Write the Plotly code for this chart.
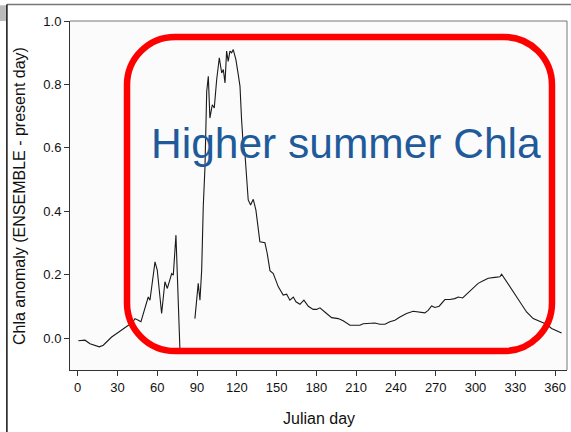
import plotly.graph_objects as go

# Julian day and Chla anomaly (ENSEMBLE - present day); None marks the data gap
julian_day = [
    0.5, 5.5, 9.3, 13.0, 16.3, 19.3, 21.9, 25.6, 29.4, 34.4, 38.2, 40.7, 43.2,
    45.7, 47.7, 49.5, 53.2, 54.5, 58.3, 60.0, 63.3, 65.8, 67.6, 70.9, 72.1,
    74.1, 77.1, 82.0,
    88.4, 90.9, 92.2, 93.5, 94.7, 96.0, 97.3, 98.5, 99.7, 101.5, 103.0, 104.8,
    106.8, 108.6, 109.8, 111.1, 112.3, 113.5, 114.8, 116.1, 117.3, 119.3,
    121.1, 122.4, 123.6, 124.9, 126.1, 127.4, 128.6, 130.4, 132.4, 134.4,
    137.4, 141.2, 142.9, 145.0, 147.5, 151.3, 155.0, 157.6, 160.0, 162.6,
    164.6, 167.6, 170.6, 173.9, 177.6, 180.2, 182.7, 187.7, 191.5, 196.5,
    200.2, 205.3, 212.8, 215.3, 220.4, 224.1, 227.9, 231.7, 235.4, 239.2,
    243.0, 248.0, 253.0, 258.0, 261.8, 264.3, 266.9, 269.4, 272.6, 276.9,
    280.7, 284.4, 287.0, 290.3, 293.3, 297.0, 302.0, 305.8, 309.6, 314.6,
    318.4, 319.7, 323.4, 328.4, 333.5, 338.5, 343.5, 348.5, 353.6, 357.4,
    361.1, 364.9,
]
chla_anomaly = [
    -0.008, -0.006, -0.017, -0.022, -0.027, -0.022, -0.012, 0.004, 0.015,
    0.031, 0.041, 0.046, 0.062, 0.057, 0.052, 0.078, 0.130, 0.120, 0.241,
    0.215, 0.078, 0.178, 0.157, 0.204, 0.199, 0.325, -0.035, None,
    0.062, 0.173, 0.120, 0.215, 0.415, 0.541, 0.778, 0.826, 0.694, 0.736,
    0.726, 0.815, 0.884, 0.836, 0.847, 0.805, 0.905, 0.873, 0.905, 0.900,
    0.910, 0.878, 0.831, 0.794, 0.689, 0.604, 0.584, 0.520, 0.436, 0.420,
    0.438, 0.404, 0.304, 0.301, 0.268, 0.213, 0.204, 0.162, 0.136, 0.139,
    0.120, 0.130, 0.115, 0.107, 0.120, 0.101, 0.091, 0.091, 0.096, 0.078,
    0.065, 0.062, 0.055, 0.041, 0.041, 0.046, 0.046, 0.048, 0.044, 0.044,
    0.052, 0.057, 0.067, 0.078, 0.085, 0.083, 0.080, 0.088, 0.102, 0.097,
    0.101, 0.122, 0.122, 0.125, 0.130, 0.127, 0.139, 0.154, 0.173, 0.181,
    0.189, 0.192, 0.194, 0.202, 0.178, 0.146, 0.115, 0.083, 0.062, 0.052,
    0.044, 0.031, 0.025, 0.017,
]

x_ticks = list(range(0, 361, 30))
y_ticks = [0.0, 0.2, 0.4, 0.6, 0.8, 1.0]
y_tick_labels = ["0.0", "0.2", "0.4", "0.6", "0.8", "1.0"]

FONT = "Liberation Sans, Arial, sans-serif"

fig = go.Figure()
fig.add_trace(go.Scatter(
    x=julian_day, y=chla_anomaly, mode="lines",
    line=dict(color="#1a1a1a", width=1.1), connectgaps=False,
    hoverinfo="x+y", showlegend=False,
))

axis_common = dict(
    showgrid=False, zeroline=False, showline=True, linecolor="#333",
    linewidth=1, ticks="outside", ticklen=5, tickcolor="#333",
    tickfont=dict(family=FONT, size=13, color="#111"),
)
fig.update_xaxes(range=[-5.8, 369], tickvals=x_ticks, mirror=False, **axis_common)
fig.update_yaxes(range=[-0.1, 1.0], tickvals=y_ticks, ticktext=y_tick_labels,
                 mirror=False, **axis_common)

# Plot-area right/top frame lines
shapes = [
    dict(type="line", xref="paper", yref="paper", x0=1, x1=1, y0=0, y1=1,
         line=dict(color="#777", width=1)),
    dict(type="line", xref="paper", yref="paper", x0=0, x1=1, y0=1, y1=1,
         line=dict(color="#777", width=1)),
]

# Slide frame around the figure
shapes += [
    dict(type="line", xref="paper", yref="paper", x0=-0.127, x1=1.01,
         y0=1.047, y1=1.047, line=dict(color="#777", width=1.5)),
    dict(type="line", xref="paper", yref="paper", x0=-0.127, x1=-0.127,
         y0=1.047, y1=-0.18, line=dict(color="#111", width=1.5)),
    dict(type="rect", xref="paper", yref="paper", x0=-0.141, x1=-0.129,
         y0=1.045, y1=1.0, fillcolor="#bbbbbb", line=dict(width=0)),
]

# Rounded red highlight box (corners drawn as cubic curves in paper units)
L, R, T, B = 0.1147, 0.9698, 0.9542, 0.0544
rx, ry = 48 / 497, 48 / 349
k = 0.5523
path = (
    f"M {L + rx},{T} L {R - rx},{T} "
    f"C {R - rx + k * rx},{T} {R},{T - ry + k * ry} {R},{T - ry} "
    f"L {R},{B + ry} "
    f"C {R},{B + ry - k * ry} {R - rx + k * rx},{B} {R - rx},{B} "
    f"L {L + rx},{B} "
    f"C {L + rx - k * rx},{B} {L},{B + ry - k * ry} {L},{B + ry} "
    f"L {L},{T - ry} "
    f"C {L},{T - ry + k * ry} {L + rx - k * rx},{T} {L + rx},{T} Z"
)
shapes.append(dict(type="path", xref="paper", yref="paper", path=path,
                   line=dict(color="#ff0000", width=6.5), layer="above"))

annotations = [
    dict(text="Higher summer Chla", xref="paper", yref="paper",
         x=(346 - 70) / 497, y=(370 - 143) / 349, xanchor="center",
         yanchor="middle", showarrow=False,
         font=dict(family=FONT, size=42.5, color="#1f5a9a")),
    dict(text="Julian day", xref="paper", yref="paper",
         x=0.5, y=(370 - 418) / 349, xanchor="center", yanchor="middle",
         showarrow=False, font=dict(family=FONT, size=16, color="#111")),
    dict(text="Chla anomaly (ENSEMBLE - present day)", xref="paper",
         yref="paper", x=(19 - 70) / 497, y=(370 - 196) / 349,
         xanchor="center", yanchor="middle", textangle=-90, showarrow=False,
         font=dict(family=FONT, size=16, color="#111")),
]

fig.update_layout(
    width=571, height=432,
    margin=dict(l=70, r=4, t=21, b=62),
    paper_bgcolor="#ffffff", plot_bgcolor="#fbfbfb",
    shapes=shapes, annotations=annotations, showlegend=False,
)

fig.write_html("out.html", include_plotlyjs=True, config={"displayModeBar": False})
